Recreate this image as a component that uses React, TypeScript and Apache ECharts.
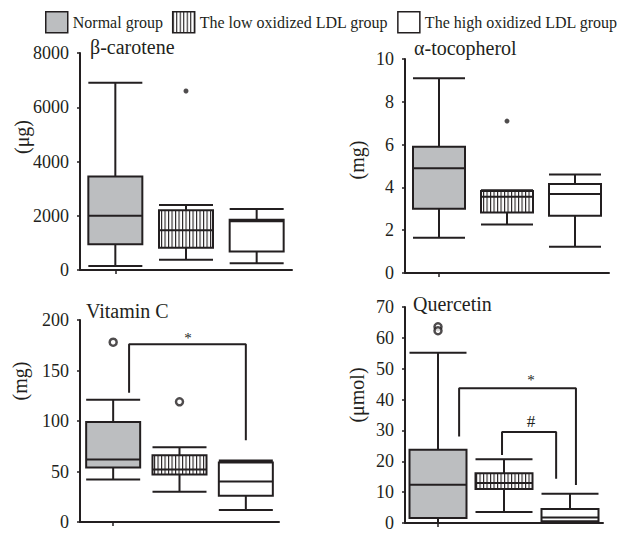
import React, { useEffect, useRef } from 'react';
import * as echarts from 'echarts';

const groups = ['Normal group', 'The low oxidized LDL group', 'The high oxidized LDL group'];
const panelTitles = ['β-carotene', 'α-tocopherol', 'Vitamin C', 'Quercetin'];
const panelUnits = ['(μg)', '(mg)', '(mg)', '(μmol)'];
const yMax = [8000, 10, 200, 70];
const yInterval = [2000, 2, 50, 10];

// [min, Q1, median, Q3, max]
const betaCarotene = [
  [150, 950, 2000, 3450, 6900],
  [380, 820, 1470, 2200, 2400],
  [250, 680, 1800, 1850, 2250],
];
const alphaTocopherol = [
  [1.65, 3.0, 4.9, 5.9, 9.1],
  [2.27, 2.83, 3.56, 3.83, 3.87],
  [1.23, 2.67, 3.69, 4.16, 4.6],
];
const vitaminC = [
  [42, 54, 62, 99, 121],
  [30, 47, 52, 66, 74],
  [12, 26, 40, 59, 61],
];
const quercetin = [
  [0, 1.6, 12.4, 23.7, 55.2],
  [3.6, 11, 13, 16.1, 20.7],
  [0, 0.6, 1.8, 4.5, 9.5],
];

// outliers: [category index, value]
const betaOutliers = [[1, 6600]];
const alphaOutliers = [[1, 7.1]];
const vitCOutliers = [[0, 178], [1, 119]];
const quercetinOutliers = [[0, 63.6], [0, 62.3]];

// significance brackets: points in [band position 0..3, value]
const vitCBracket = [[0.74, 128], [0.74, 176], [2.5, 176], [2.5, 81]];
const vitCMark = [[1.63, 182, '*']];
const quercetinBracketStar = [[0.82, 28], [0.82, 43.7], [2.59, 43.7], [2.59, 12.3]];
const quercetinBracketHash = [[1.47, 22], [1.47, 29.5], [2.29, 29.5], [2.29, 14.3]];
const quercetinStarMark = [[1.91, 46.4, '*']];
const quercetinHashMark = [[1.91, 33, '#']];

const INK = '#231f20';
const GRAY = '#bcbec0';
const FONT = 'Liberation Serif, Times New Roman, serif';

const hatchSvg =
  "<svg xmlns='http://www.w3.org/2000/svg' width='3.5' height='8'>" +
  "<rect width='3.5' height='8' fill='#ffffff'/>" +
  "<rect x='0' width='1.1' height='8' fill='#231f20'/></svg>";
const HATCH: any = {
  image: 'data:image/svg+xml;charset=utf-8,' + encodeURIComponent(hatchSvg),
  repeat: 'repeat',
  imageWidth: 3.5,
  imageHeight: 8,
};
const fills: any[] = [GRAY, HATCH, '#ffffff'];

const grids = [
  { left: 80, top: 53, width: 212, height: 217 },
  { left: 405, top: 59, width: 204, height: 214 },
  { left: 80, top: 320, width: 199, height: 202 },
  { left: 405, top: 307, width: 198, height: 216 },
];
const boxWidths = [54, 52, 54, 57];
const titlePos = [
  { left: 90, top: 37 },
  { left: 414, top: 38 },
  { left: 86, top: 301 },
  { left: 413, top: 294 },
];
const unitPos = [
  [22, 137],
  [357, 160],
  [20, 381],
  [357, 395],
];

export default function App() {
  const ref = useRef<HTMLDivElement>(null);
  useEffect(() => {
    if (!ref.current) return;
    const chart = echarts.init(ref.current, null, { renderer: 'svg' });
    const boxData = [betaCarotene, alphaTocopherol, vitaminC, quercetin];
    const outliers = [betaOutliers, alphaOutliers, vitCOutliers, quercetinOutliers];

    const xAxis: any[] = grids.map((_, i) => ({
      type: 'category',
      gridIndex: i,
      data: groups,
      axisLine: { show: true, lineStyle: { color: INK, width: 2 } },
      axisTick: { show: true, alignWithLabel: true, length: 4, lineStyle: { color: INK, width: 1.5 } },
      axisLabel: { show: false },
      splitLine: { show: false },
    }));
    // hidden positional axes for annotation brackets (panels 3 and 4)
    xAxis.push({ type: 'value', gridIndex: 2, min: 0, max: 3, show: false });
    xAxis.push({ type: 'value', gridIndex: 3, min: 0, max: 3, show: false });

    const yAxis = grids.map((_, i) => ({
      type: 'value',
      gridIndex: i,
      min: 0,
      max: yMax[i],
      interval: yInterval[i],
      axisLine: { show: true, lineStyle: { color: INK, width: 2 } },
      axisTick: { show: true, length: 3, lineStyle: { color: INK, width: 1.5 } },
      axisLabel: {
        fontSize: 18,
        color: INK,
        margin: 11,
        fontFamily: FONT,
        formatter: (v: number) => String(v),
      },
      splitLine: { show: false },
    }));

    const series: any[] = [];
    groups.forEach((g, k) => {
      series.push({
        type: 'bar',
        name: g,
        xAxisIndex: 0,
        yAxisIndex: 0,
        data: [],
        itemStyle: { color: fills[k], borderColor: INK, borderWidth: 1.5 },
      });
    });
    boxData.forEach((d, i) => {
      series.push({
        type: 'boxplot',
        xAxisIndex: i,
        yAxisIndex: i,
        boxWidth: [boxWidths[i], boxWidths[i]],
        silent: true,
        itemStyle: { borderColor: INK, borderWidth: 2 },
        data: d.map((v, k) => ({
          value: v,
          itemStyle: { color: fills[k], borderColor: INK, borderWidth: 2 },
        })),
      });
      const open = i >= 2;
      series.push({
        type: 'scatter',
        xAxisIndex: i,
        yAxisIndex: i,
        silent: true,
        symbol: 'circle',
        symbolSize: open ? 7 : 5,
        itemStyle: open
          ? { color: '#ffffff', borderColor: INK, borderWidth: 2.5 }
          : { color: INK },
        data: outliers[i],
        z: 5,
      });
    });

    const bracket = (xIdx: number, yIdx: number, pts: number[][]) => ({
      type: 'line',
      xAxisIndex: xIdx,
      yAxisIndex: yIdx,
      silent: true,
      symbol: 'none',
      color: INK,
      lineStyle: { color: INK, width: 2 },
      data: pts,
      z: 4,
    });
    const vitCBracketIdx = series.length;
    series.push(bracket(4, 2, vitCBracket));
    const quercetinBracketIdx = series.length;
    series.push(bracket(5, 3, quercetinBracketStar));
    series.push(bracket(5, 3, quercetinBracketHash));

    const unitGraphics = panelUnits.map((u, i) => ({
      type: 'text',
      x: unitPos[i][0],
      y: unitPos[i][1],
      rotation: Math.PI / 2,
      style: {
        text: u,
        fill: INK,
        fontSize: 20,
        fontFamily: FONT,
        align: 'center',
        verticalAlign: 'middle',
      },
    }));

    const option: any = {
      animation: false,
      backgroundColor: '#ffffff',
      textStyle: { fontFamily: FONT },
      legend: {
        left: 45,
        top: 11,
        width: 600,
        padding: 0,
        icon: 'rect',
        itemWidth: 22,
        itemHeight: 21,
        itemGap: 9,
        selectedMode: false,
        textStyle: { fontSize: 16, color: INK, fontFamily: FONT },
        data: groups.map((g, k) => ({
          name: g,
          itemStyle: { color: fills[k], borderColor: INK, borderWidth: 1.5 },
        })),
      },
      title: panelTitles.map((t, i) => ({
        text: t,
        left: titlePos[i].left,
        top: titlePos[i].top,
        padding: 0,
        textStyle: { fontSize: 20, fontWeight: 'normal', color: INK, fontFamily: FONT },
      })),
      grid: grids,
      xAxis,
      yAxis,
      series,
      graphic: unitGraphics,
    };
    chart.setOption(option);

    // significance marks placed through the chart's own scales
    const markGraphics: any[] = [];
    const addMarks = (seriesIndex: number, pts: any[], size: number) => {
      pts.forEach((p) => {
        const px = chart.convertToPixel({ seriesIndex }, [p[0], p[1]]) as any;
        if (!px) return;
        markGraphics.push({
          type: 'text',
          x: px[0],
          y: px[1],
          z: 10,
          style: {
            text: p[2],
            fill: INK,
            fontSize: size,
            fontFamily: FONT,
            align: 'center',
            verticalAlign: 'middle',
          },
        });
      });
    };
    addMarks(vitCBracketIdx, vitCMark, 15);
    addMarks(quercetinBracketIdx, quercetinStarMark, 15);
    addMarks(quercetinBracketIdx, quercetinHashMark, 17);
    chart.setOption({ graphic: [...unitGraphics, ...markGraphics] });

    return () => chart.dispose();
  }, []);
  return (
    <div
      ref={ref}
      style={{ position: 'fixed', left: 0, top: 0, width: 626, height: 535, background: '#fff' }}
    />
  );
}
